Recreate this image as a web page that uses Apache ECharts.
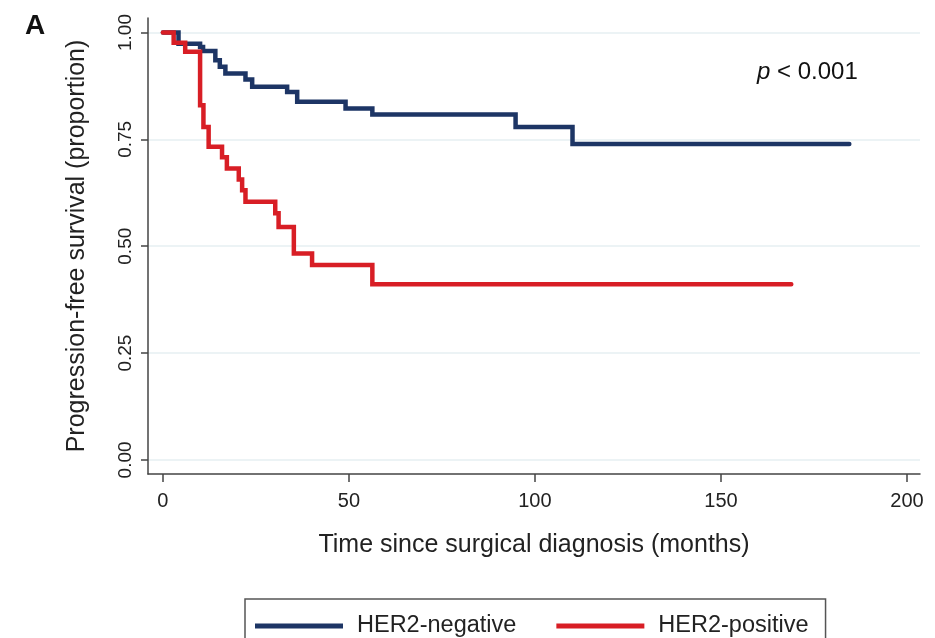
<!DOCTYPE html>
<html>
<head>
<meta charset="utf-8">
<script src="https://cdn.jsdelivr.net/npm/echarts@6/dist/echarts.min.js"></script>
<style>
  html, body { margin: 0; padding: 0; background: #fff; }
  #chart { width: 935px; height: 638px; }
</style>
</head>
<body>
<div id="chart"></div>
<script>
// months / proportion
const negTimes = [0, 4.2, 10.0, 10.8, 14.1, 15.3, 16.8, 22.2, 24.0, 33.4, 36.1, 49.1, 56.3, 94.8, 110.1, 184.5]
const negSurv = [1, 0.974, 0.966, 0.957, 0.935, 0.920, 0.904, 0.890, 0.873, 0.861, 0.838, 0.822, 0.808, 0.779, 0.739, 0.739]

const posTimes = [0, 2.9, 6.0, 10.0, 10.9, 12.3, 15.9, 17.2, 20.4, 21.3, 22.2, 30.2, 31.1, 35.2, 40.1, 56.3, 168.9]
const posSurv = [1, 0.976, 0.955, 0.830, 0.779, 0.733, 0.708, 0.682, 0.656, 0.631, 0.604, 0.577, 0.545, 0.483, 0.456, 0.411, 0.411]

const xTicks = [0, 50, 100, 150, 200]
const yTicks = [0, 0.25, 0.5, 0.75, 1]

const seriesNames = ['HER2-negative', 'HER2-positive']
const color = ['#1d3565', '#d81e25']

const narrow = "'Liberation Sans Narrow', 'Arial Narrow', 'Liberation Sans', Arial, sans-serif"
const sans = "'Liberation Sans', Arial, sans-serif"

function toPairs(times, vals) {
    return times.map((t, i) => [t, vals[i]])
}

function stepSeries(name, data) {
    return {
        name,
        type: 'line',
        step: 'end',
        showSymbol: false,
        symbol: 'none',
        data,
        lineStyle: { width: 4.5, cap: 'round', join: 'miter' },
        z: 3
    }
}

const option = {
    animation: false,
    color,
    title: [
        {
            text: 'A',
            left: 25,
            top: 12,
            padding: 0,
            textStyle: { fontFamily: sans, fontSize: 28, fontWeight: 'bold', color: '#111' }
        },
        {
            text: '{i|p} < 0.001',
            left: 757,
            top: 60,
            padding: 0,
            textStyle: {
                fontFamily: sans, fontSize: 24, fontWeight: 'normal', color: '#111',
                rich: { i: { fontFamily: sans, fontSize: 24, fontStyle: 'italic', color: '#111' } }
            }
        }
    ],
    grid: { left: 148, right: 15, top: 18, bottom: 164 },
    legend: {
        left: 245,
        top: 599,
        orient: 'horizontal',
        data: seriesNames.map(n => ({ name: n, icon: 'rect' })),
        itemWidth: 88,
        itemHeight: 5,
        itemGap: 40,
        padding: [15, 17, 15, 10],
        borderColor: '#555',
        borderWidth: 1.5,
        borderRadius: 0,
        selectedMode: false,
        textStyle: { fontFamily: sans, fontSize: 23.5, color: '#222', padding: [0, 0, 0, 9] }
    },
    xAxis: {
        type: 'value',
        min: -4,
        max: 203.5,
        name: 'Time since surgical diagnosis (months)',
        nameLocation: 'middle',
        nameGap: 59,
        nameTextStyle: { fontFamily: sans, fontSize: 25, color: '#222' },
        axisLine: { show: true, onZero: false, lineStyle: { color: '#444', width: 1.5 } },
        axisTick: { show: true, length: 8, customValues: xTicks, lineStyle: { color: '#444', width: 1.5 } },
        axisLabel: { customValues: xTicks, margin: 17, fontFamily: narrow, fontSize: 20, color: '#222' },
        splitLine: { show: false }
    },
    yAxis: {
        type: 'value',
        min: -0.033,
        max: 1.034,
        name: 'Progression-free survival (proportion)',
        nameLocation: 'middle',
        nameGap: 58,
        nameTextStyle: { fontFamily: sans, fontSize: 25, color: '#222' },
        axisLine: { show: true, onZero: false, lineStyle: { color: '#444', width: 1.5 } },
        axisTick: { show: true, length: 7, customValues: yTicks, lineStyle: { color: '#444', width: 1.5 } },
        axisLabel: {
            customValues: yTicks,
            rotate: 90,
            margin: 13,
            fontFamily: narrow,
            fontSize: 19,
            color: '#222',
            formatter: v => v.toFixed(2)
        },
        splitLine: { show: true, lineStyle: { color: '#e6eff2', width: 1.5 } }
    },
    series: [
        stepSeries(seriesNames[0], toPairs(negTimes, negSurv)),
        stepSeries(seriesNames[1], toPairs(posTimes, posSurv))
    ]
}

const chart = echarts.init(document.getElementById('chart'), null, { renderer: 'canvas' })
chart.setOption(option)
</script>
</body>
</html>
